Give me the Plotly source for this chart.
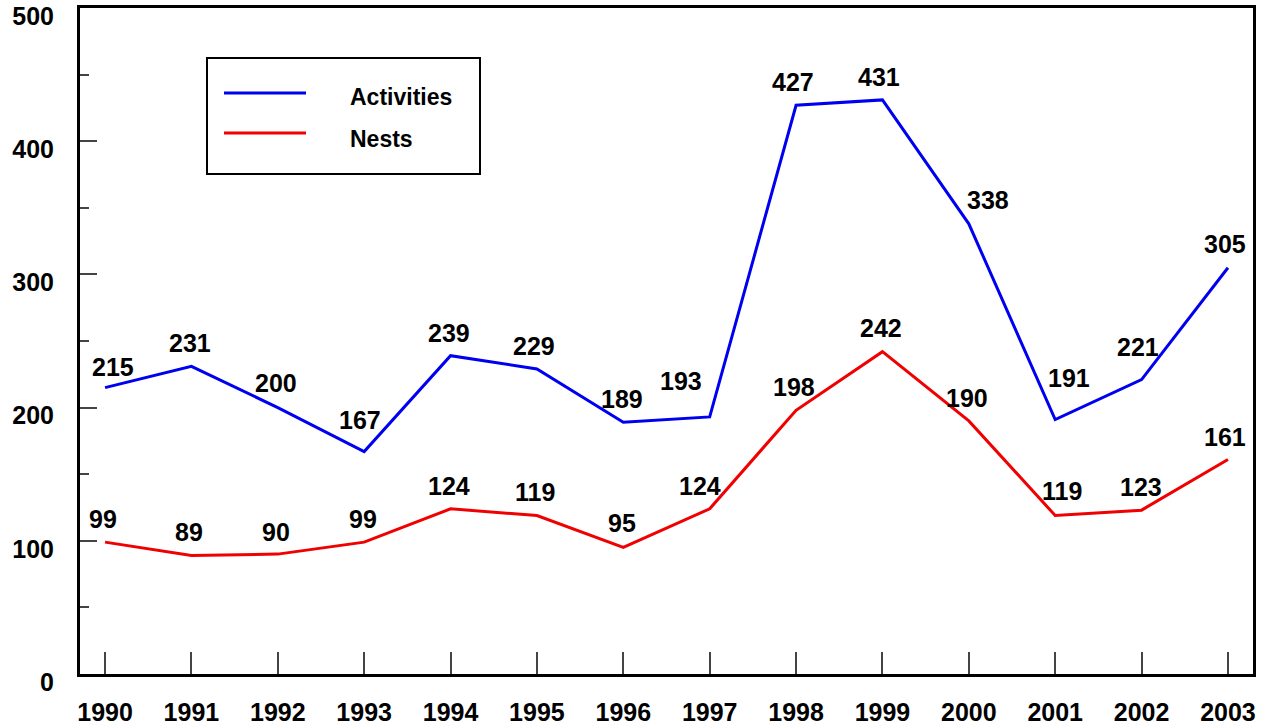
import plotly.graph_objects as go

years = list(range(1990, 2004))
activities = [215, 231, 200, 167, 239, 229, 189, 193, 427, 431, 338, 191, 221, 305]
nests = [99, 89, 90, 99, 124, 119, 95, 124, 198, 242, 190, 119, 123, 161]
series_names = ["Activities", "Nests"]
series_colors = ["#0000f0", "#f00000"]

# label offsets in pixels (style, not data)
act_dx = [8, -1, -2, -4, -2, -3, -1, -29, -3, -3, 19, 14, -4, -3]
act_dy = [21, 23, 25, 32, 23, 23, 23, 36, 23, 23, 24, 42, 33, 24]
nest_dx = [-2, -2, -2, -1, -2, -2, -1, -10, -2, -1, -2, 7, -1, -3]
nest_dy = [23, 23, 22, 23, 23, 23, 24, 23, 23, 24, 23, 24, 23, 23]

FONT = "Liberation Sans, Arial, sans-serif"
FS = 25
fig = go.Figure()
for name, vals, col in zip(series_names, [activities, nests], series_colors):
    fig.add_trace(go.Scatter(x=years, y=vals, mode="lines", name=name,
                             line=dict(color=col, width=3), showlegend=False))

annotations = []
for vals, dxs, dys in [(activities, act_dx, act_dy), (nests, nest_dx, nest_dy)]:
    for x, v, dx, dy in zip(years, vals, dxs, dys):
        annotations.append(dict(x=x, y=v, text=str(v), showarrow=False,
                                xshift=dx, yshift=dy,
                                font=dict(family=FONT, size=FS, color="black", weight="bold")))

# legend drawn as a framed box
L, R, T, B = 80, 1253, 8, 674
def px(x): return (x - L) / (R - L)
def py(y): return 1 - (y - T) / (B - T)

shapes = [dict(type="rect", xref="paper", yref="paper", x0=px(207), x1=px(480),
               y0=py(174), y1=py(58), line=dict(color="black", width=2), fillcolor="white")]
for name, col, ly, ty in zip(series_names, series_colors, [93, 133], [97, 139]):
    shapes.append(dict(type="line", xref="paper", yref="paper", x0=px(224), x1=px(306),
                       y0=py(ly), y1=py(ly), line=dict(color=col, width=3)))
    annotations.append(dict(xref="paper", yref="paper", x=px(348), y=py(ty), text=name,
                            xanchor="left", yanchor="middle", showarrow=False,
                            font=dict(family=FONT, size=23, color="black", weight="bold")))

fig.update_layout(
    width=1267, height=728,
    margin=dict(l=L, r=1267 - R, t=T, b=728 - B),
    paper_bgcolor="white", plot_bgcolor="white",
    shapes=shapes, annotations=annotations,
    xaxis=dict(range=[1989.71, 2003.29], tickmode="array", tickvals=years,
               ticktext=[str(y) for y in years], showgrid=False, zeroline=False,
               automargin=False,
               showline=True, linewidth=3, linecolor="black", mirror=True,
               ticks="inside", ticklen=22, tickwidth=1.5, tickcolor="#444",
               ticklabelstandoff=14,
               tickfont=dict(family=FONT, size=FS, color="black", weight="bold")),
    yaxis=dict(range=[0, 500], dtick=100, showgrid=False, zeroline=False,
               automargin=False,
               showline=True, linewidth=3, linecolor="black", mirror=True,
               ticks="inside", ticklen=17, tickwidth=1.5, tickcolor="#444",
               minor=dict(dtick=50, ticks="inside", ticklen=9, tickwidth=1.5, tickcolor="#444"),
               ticklabelstandoff=18, ticklabelshift=8,
               tickfont=dict(family=FONT, size=FS, color="black", weight="bold")),
)
fig.write_html("out.html", config={"displayModeBar": False},
               post_script="document.body.style.margin='0';document.body.style.overflow='hidden';")
